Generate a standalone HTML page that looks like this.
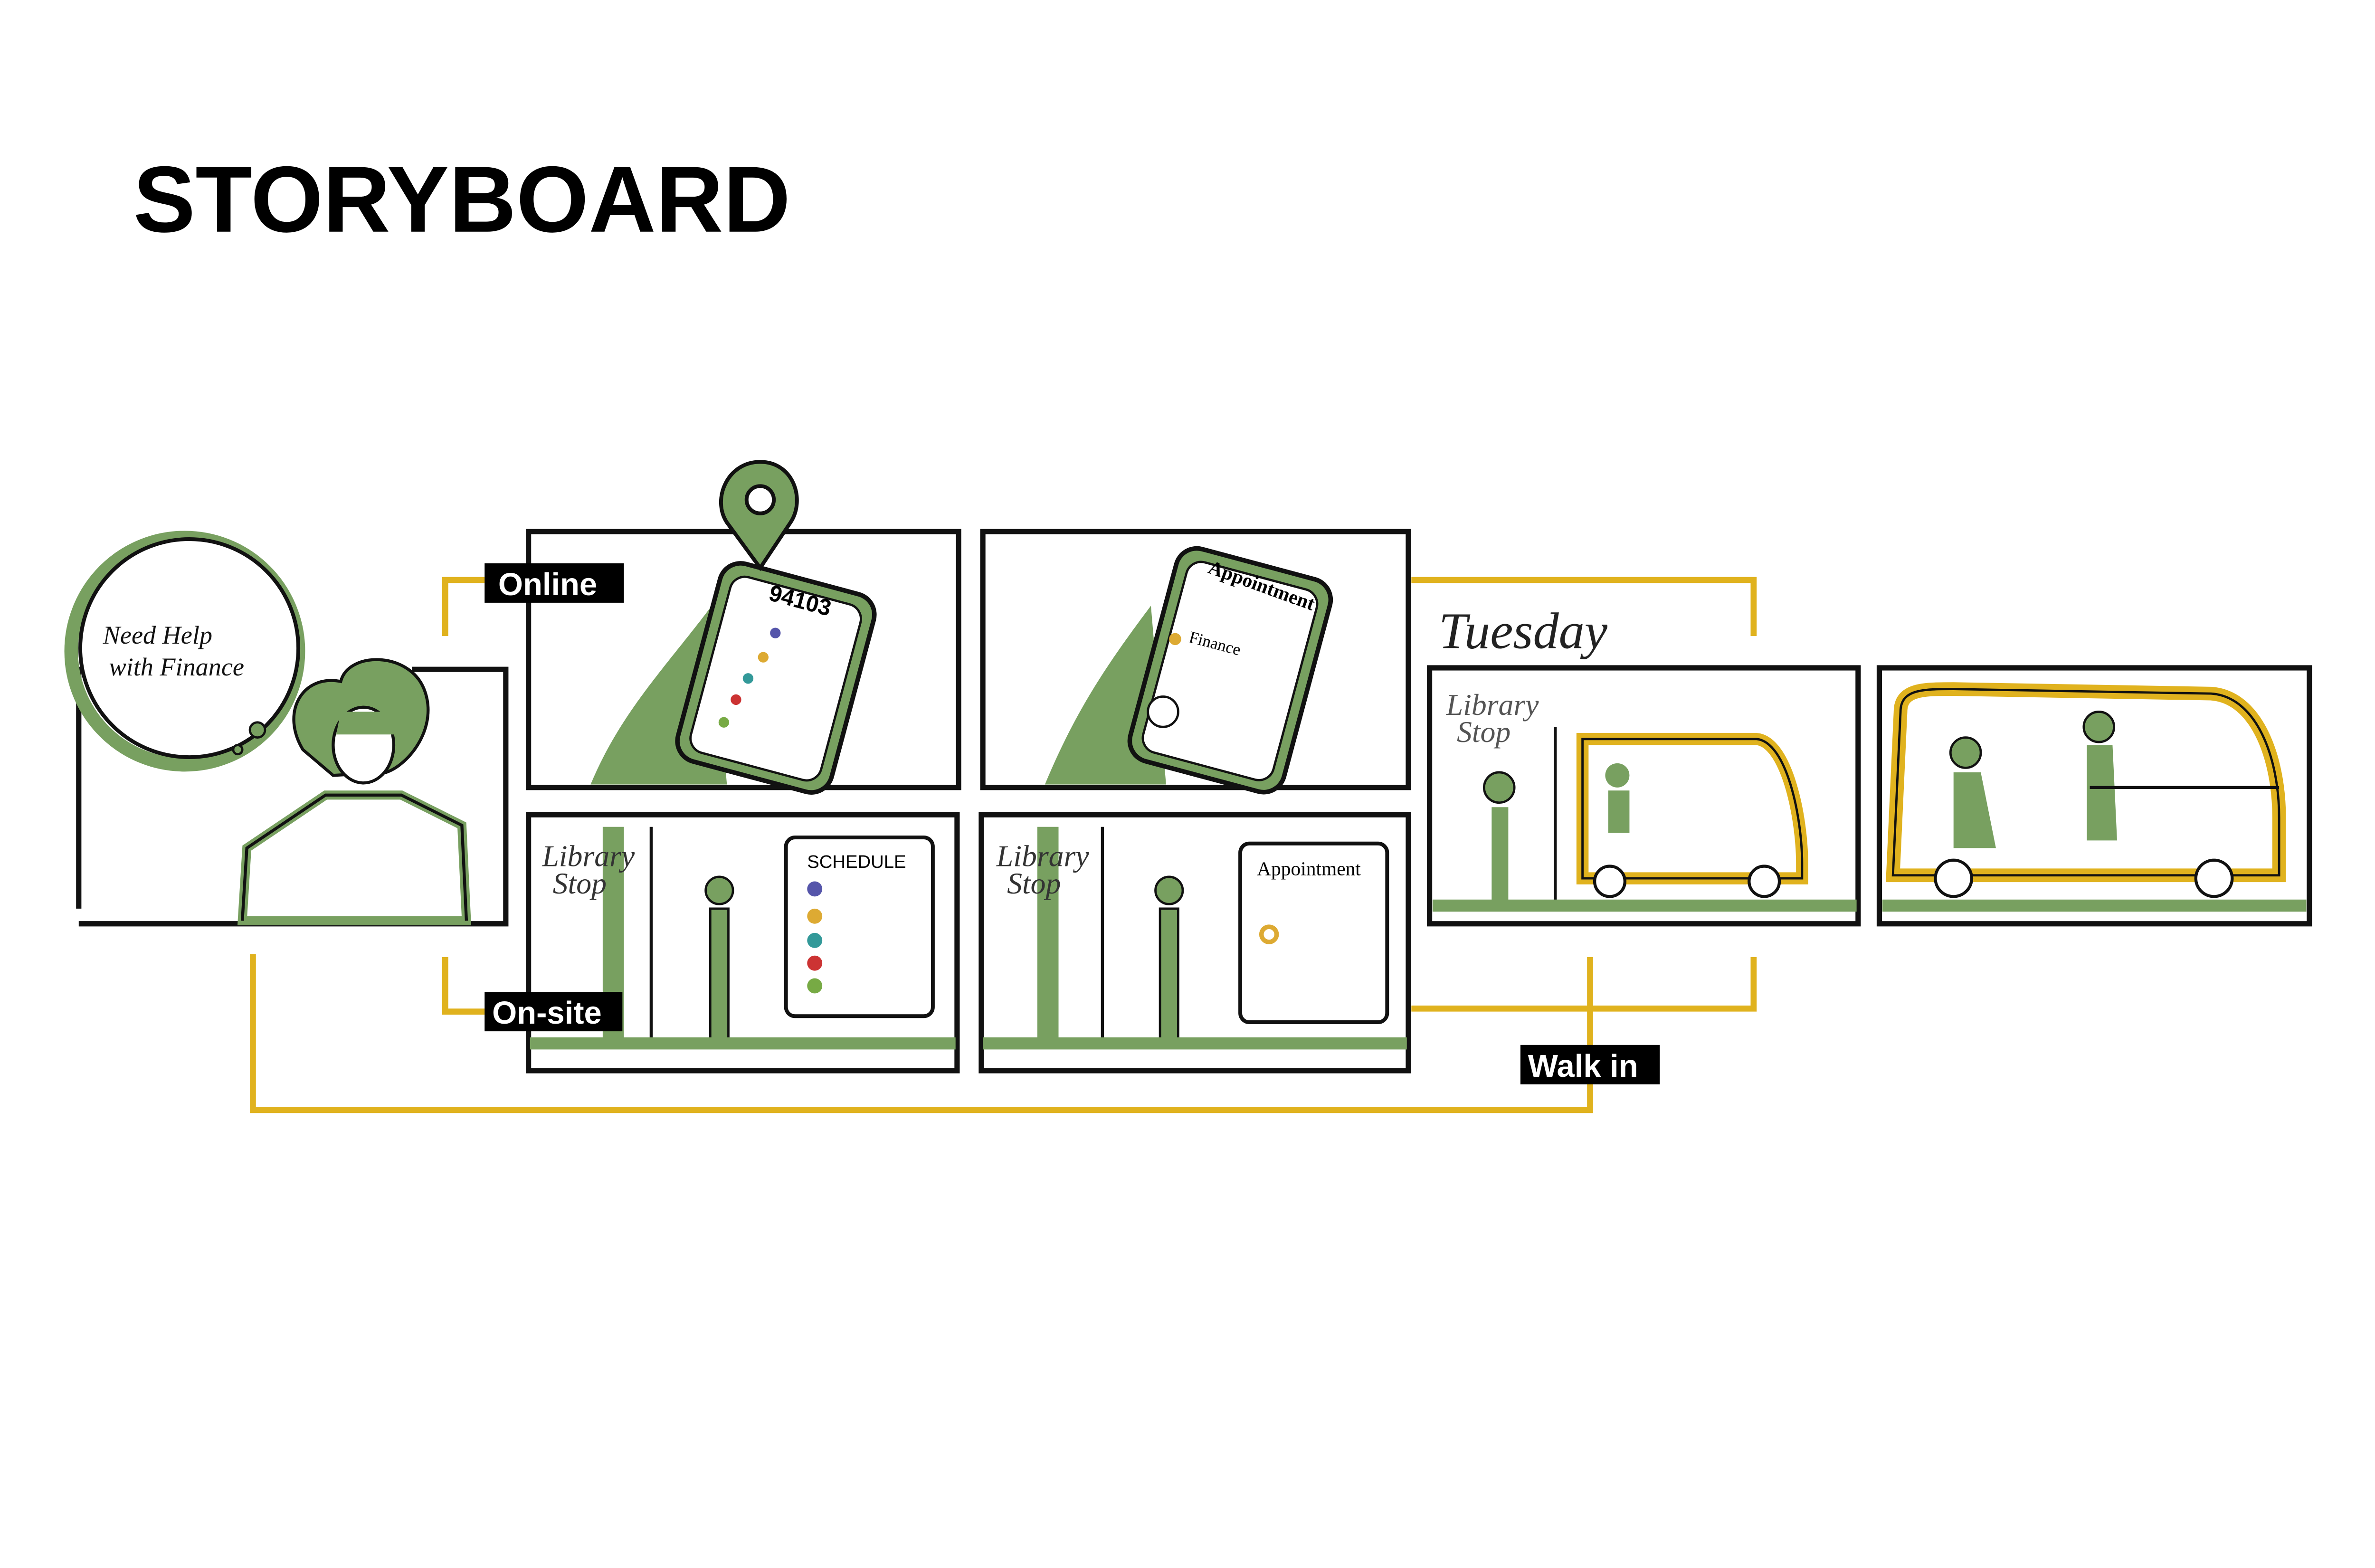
<!DOCTYPE html>
<html><head><meta charset="utf-8"><style>
html,body{margin:0;padding:0;background:#fff;}
svg{display:block}
</style></head><body>
<svg width="5101" height="3301" viewBox="0 0 1600 1035.4" preserveAspectRatio="none" xmlns="http://www.w3.org/2000/svg">
<rect width="1600" height="1036" fill="#fff"/>
<text x="88" y="153" font-family="Liberation Sans, sans-serif" font-weight="bold" font-size="62" fill="#000" textLength="434" lengthAdjust="spacingAndGlyphs">STORYBOARD</text>

<!-- yellow connectors -->
<g stroke="#e0b21e" stroke-width="4" fill="none">
<polyline points="320,383 294,383 294,420"/>
<polyline points="320,668 294,668 294,632"/>
<polyline points="932,383 1158,383 1158,420"/>
<polyline points="932,666 1158,666 1158,632"/>
<polyline points="167,630 167,733 1050,733 1050,632"/>
</g>

<!-- panel 1 -->
<g>
<path d="M52 600 L52 442 L196 442 M272 442 L334 442 L334 610 L52 610" fill="none" stroke="#111" stroke-width="3.5"/>
<circle cx="122" cy="430" r="75" fill="none" stroke="#78a060" stroke-width="9"/>
<circle cx="125" cy="428" r="72" fill="#fff" stroke="#111" stroke-width="2.5"/>
<text x="68" y="425" font-family="Liberation Serif, serif" font-style="italic" font-size="17" fill="#111">Need Help</text>
<text x="72" y="446" font-family="Liberation Serif, serif" font-style="italic" font-size="17" fill="#111">with Finance</text>
<circle cx="170" cy="482" r="5" fill="#78a060" stroke="#111" stroke-width="1.5"/>
<circle cx="157" cy="495" r="3" fill="#78a060" stroke="#111" stroke-width="1.5"/>
<path d="M160 608 L163 560 L215 525 L265 525 L305 545 L308 608 Z" fill="#fff" stroke="#78a060" stroke-width="6"/>
<path d="M160 608 L163 560 L215 525 L265 525 L305 545 L308 608" fill="none" stroke="#111" stroke-width="2"/>
<path d="M200 495 C185 470 200 445 225 450 C230 430 270 430 280 455 C290 480 270 505 255 510 L220 512 Z" fill="#78a060" stroke="#111" stroke-width="2"/>
<ellipse cx="240" cy="492" rx="20" ry="25" fill="#fff" stroke="#111" stroke-width="2"/>
<path d="M225 470 L255 470 L262 485 L222 485Z" fill="#78a060"/>
</g>

<!-- panel frames -->
<g fill="none" stroke="#111" stroke-width="3.5">
<rect x="349" y="351" width="284" height="169"/>
<rect x="649" y="351" width="281" height="169"/>
<rect x="349" y="538" width="283" height="169"/>
<rect x="648" y="538" width="282" height="169"/>
<rect x="944" y="441" width="283" height="169"/>
<rect x="1241" y="441" width="284" height="169"/>
</g>

<!-- phone panels -->
<g>
<path d="M390 518 C410 470 440 440 470 400 L480 518 Z" fill="#78a060"/>
<rect x="460" y="380" width="105" height="135" rx="14" transform="rotate(15 512 447)" fill="#78a060" stroke="#111" stroke-width="3"/>
<rect x="468" y="388" width="89" height="120" rx="10" transform="rotate(15 512 447)" fill="#fff" stroke="#111" stroke-width="1.5"/>
<path d="M502 305 C480 305 470 330 480 345 L502 375 L522 345 C532 330 524 305 502 305Z" fill="#78a060" stroke="#111" stroke-width="2.5"/>
<circle cx="502" cy="330" r="9" fill="#fff" stroke="#111" stroke-width="2.5"/>
<text x="508" y="402" font-family="Liberation Sans, sans-serif" font-weight="bold" font-size="15" transform="rotate(15 530 395)">94103</text>
<circle cx="512" cy="418" r="3.5" fill="#55a"/><circle cx="504" cy="434" r="3.5" fill="#da3"/><circle cx="494" cy="448" r="3.5" fill="#399"/><circle cx="486" cy="462" r="3.5" fill="#c33"/><circle cx="478" cy="477" r="3.5" fill="#7a4"/>
</g>
<g>
<path d="M690 518 C710 470 730 440 760 400 L770 518 Z" fill="#78a060"/>
<rect x="760" y="370" width="105" height="145" rx="14" transform="rotate(15 812 442)" fill="#78a060" stroke="#111" stroke-width="3"/>
<rect x="768" y="378" width="89" height="130" rx="10" transform="rotate(15 812 442)" fill="#fff" stroke="#111" stroke-width="1.5"/>
<text x="795" y="390" font-family="Liberation Serif, serif" font-weight="bold" font-size="13" transform="rotate(20 830 390)">Appointment</text>
<circle cx="776" cy="422" r="4" fill="#da3"/>
<text x="784" y="428" font-family="Liberation Serif, serif" font-size="11" transform="rotate(15 800 428)">Finance</text>
<circle cx="768" cy="470" r="10" fill="#fff" stroke="#111" stroke-width="1.5"/>
</g>

<!-- library panels -->
<g>
<rect x="398" y="546" width="14" height="140" fill="#78a060"/><line x1="430" y1="546" x2="430" y2="688" stroke="#111" stroke-width="2"/>
<text x="358" y="572" font-family="Liberation Serif, serif" font-style="italic" font-size="20" fill="#333">Library</text>
<text x="365" y="590" font-family="Liberation Serif, serif" font-style="italic" font-size="20" fill="#333">Stop</text>
<circle cx="475" cy="588" r="9" fill="#78a060" stroke="#111" stroke-width="1.5"/>
<rect x="469" y="600" width="12" height="88" fill="#78a060" stroke="#111" stroke-width="1.5"/>
<rect x="519" y="553" width="97" height="118" rx="6" fill="#fff" stroke="#111" stroke-width="2.5"/>
<text x="533" y="573" font-family="Liberation Sans, sans-serif" font-size="12">SCHEDULE</text>
<circle cx="538" cy="587" r="5" fill="#55a"/><circle cx="538" cy="605" r="5" fill="#da3"/><circle cx="538" cy="621" r="5" fill="#399"/><circle cx="538" cy="636" r="5" fill="#c33"/><circle cx="538" cy="651" r="5" fill="#7a4"/>
<rect x="350" y="685" width="281" height="8" fill="#78a060"/>
</g>
<g>
<rect x="685" y="546" width="14" height="140" fill="#78a060"/><line x1="728" y1="546" x2="728" y2="688" stroke="#111" stroke-width="2"/>
<text x="658" y="572" font-family="Liberation Serif, serif" font-style="italic" font-size="20" fill="#333">Library</text>
<text x="665" y="590" font-family="Liberation Serif, serif" font-style="italic" font-size="20" fill="#333">Stop</text>
<circle cx="772" cy="588" r="9" fill="#78a060" stroke="#111" stroke-width="1.5"/>
<rect x="766" y="600" width="12" height="88" fill="#78a060" stroke="#111" stroke-width="1.5"/>
<rect x="819" y="557" width="97" height="118" rx="6" fill="#fff" stroke="#111" stroke-width="2.5"/>
<text x="830" y="578" font-family="Liberation Serif, serif" font-size="13">Appointment</text>
<circle cx="838" cy="617" r="5" fill="none" stroke="#da3" stroke-width="3"/>
<rect x="649" y="685" width="280" height="8" fill="#78a060"/>
</g>

<!-- Tuesday panel -->
<text x="950" y="428" font-family="Liberation Serif, serif" font-style="italic" font-size="34" fill="#222">Tuesday</text>
<g>
<text x="955" y="472" font-family="Liberation Serif, serif" font-style="italic" font-size="20" fill="#555">Library</text>
<text x="962" y="490" font-family="Liberation Serif, serif" font-style="italic" font-size="20" fill="#555">Stop</text>
<line x1="1027" y1="480" x2="1027" y2="595" stroke="#111" stroke-width="2"/>
<circle cx="990" cy="520" r="10" fill="#78a060" stroke="#111" stroke-width="1.5"/>
<rect x="985" y="533" width="11" height="62" fill="#78a060"/>
<path d="M1045 488 L1160 488 C1180 490 1190 540 1190 570 L1190 580 L1045 580 Z" fill="#fff" stroke="#e0b21e" stroke-width="8"/>
<path d="M1045 488 L1160 488 C1180 490 1190 540 1190 570 L1190 580 L1045 580 Z" fill="none" stroke="#111" stroke-width="1.5"/>
<circle cx="1063" cy="582" r="10" fill="#fff" stroke="#111" stroke-width="2"/><circle cx="1165" cy="582" r="10" fill="#fff" stroke="#111" stroke-width="2"/>
<circle cx="1068" cy="512" r="8" fill="#78a060"/><rect x="1062" y="522" width="14" height="28" fill="#78a060"/>
<rect x="946" y="594" width="280" height="8" fill="#78a060"/>
</g>

<!-- Bus panel -->
<g>
<path d="M1255 470 C1255 455 1270 455 1290 455 L1460 458 C1490 460 1505 500 1505 540 L1505 578 L1250 578 Z" fill="#fff" stroke="#e0b21e" stroke-width="9"/>
<path d="M1255 470 C1255 455 1270 455 1290 455 L1460 458 C1490 460 1505 500 1505 540 L1505 578 L1250 578 Z" fill="none" stroke="#111" stroke-width="1.5"/>
<circle cx="1290" cy="580" r="12" fill="#fff" stroke="#111" stroke-width="2"/><circle cx="1462" cy="580" r="12" fill="#fff" stroke="#111" stroke-width="2"/>
<circle cx="1298" cy="497" r="10" fill="#78a060" stroke="#111" stroke-width="1.5"/>
<path d="M1290 510 L1308 510 L1318 560 L1290 560Z" fill="#78a060"/>
<circle cx="1386" cy="480" r="10" fill="#78a060" stroke="#111" stroke-width="1.5"/>
<path d="M1378 492 L1395 492 L1398 555 L1378 555Z" fill="#78a060"/>
<line x1="1380" y1="520" x2="1505" y2="520" stroke="#111" stroke-width="2"/>
<rect x="1243" y="594" width="280" height="8" fill="#78a060"/>
</g>

<!-- labels -->
<g font-family="Liberation Sans, sans-serif" font-weight="bold" font-size="21" fill="#fff">
<rect x="320" y="372" width="92" height="26" fill="#000"/><text x="329" y="393">Online</text>
<rect x="320" y="655" width="91" height="26" fill="#000"/><text x="325" y="676">On-site</text>
<rect x="1004" y="690" width="92" height="26" fill="#000"/><text x="1009" y="711">Walk in</text>
</g>
</svg>
</body></html>
